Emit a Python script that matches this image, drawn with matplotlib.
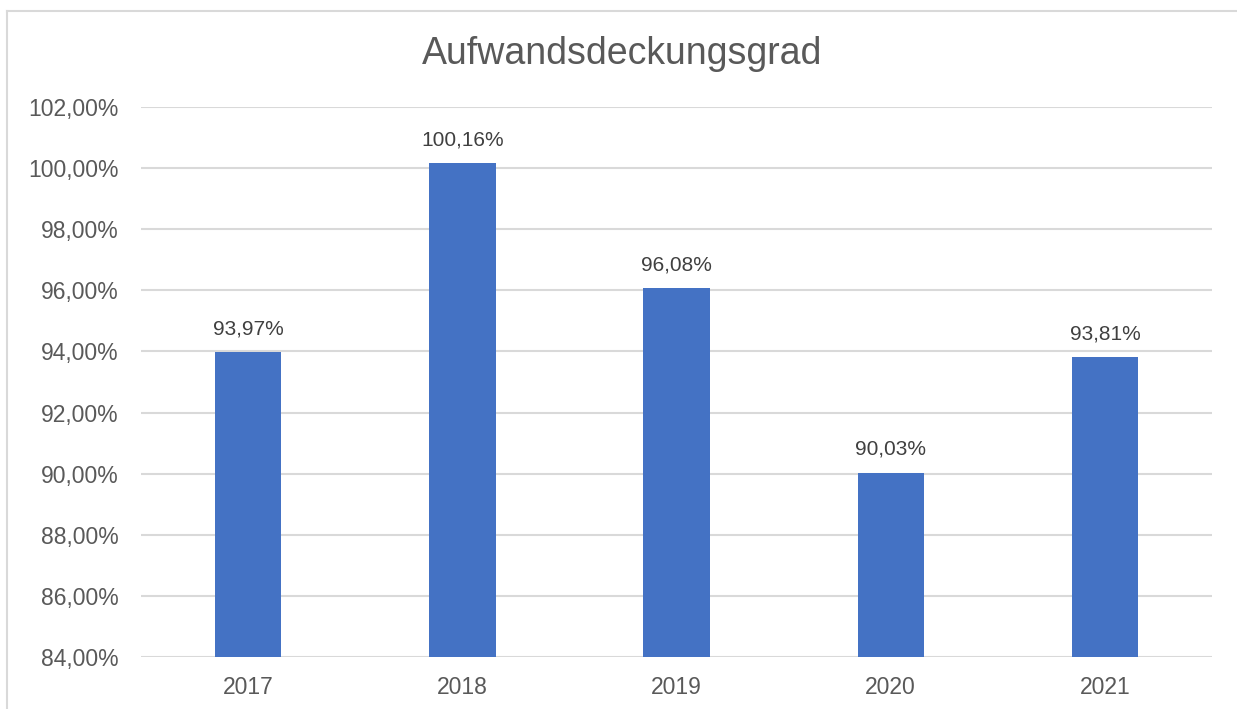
import matplotlib.pyplot as plt
from matplotlib.ticker import FuncFormatter, MultipleLocator
from matplotlib.lines import Line2D

years = ['2017', '2018', '2019', '2020', '2021']
values = [93.97, 100.16, 96.08, 90.03, 93.81]

plt.rcParams['font.family'] = ['Liberation Sans', 'DejaVu Sans']
textColor = '#595959'

fig = plt.figure(figsize=(12.37, 7.09), dpi=100)
ax = fig.add_axes([0.114, 0.0733, 0.8658, 0.7758])

x = range(len(years))
ax.bar(x, values, width=0.31, color='#4472c4', zorder=3)

for i in x:
    ax.annotate(('%.2f%%' % values[i]).replace('.', ','), (i, values[i]),
                xytext=(0, 10), textcoords='offset points',
                ha='center', va='bottom', fontsize=15, color='#404040')

ax.set_xlim(-0.5, 4.5)
ax.set_ylim(84, 102)
ax.yaxis.set_major_locator(MultipleLocator(2))
ax.yaxis.set_major_formatter(FuncFormatter(lambda v, p: ('%.2f%%' % v).replace('.', ',')))
ax.set_xticks(list(x))
ax.set_xticklabels(years)
ax.tick_params(axis='both', length=0, labelsize=16.5, colors=textColor)
ax.tick_params(axis='y', pad=16)
ax.tick_params(axis='x', pad=14)
ax.grid(axis='y', color='#d9d9d9', linewidth=1.5, zorder=0)
for s in ax.spines.values():
    s.set_visible(False)

fig.text(0.503, 0.924, 'Aufwandsdeckungsgrad', ha='center', va='center',
         fontsize=27, color=textColor)

# outer chart frame (top and left only visible)
fig.add_artist(Line2D([0.0057, 1.0], [0.9845, 0.9845], color='#d9d9d9', linewidth=1.5))
fig.add_artist(Line2D([0.0057, 0.0057], [0.0, 0.9845], color='#d9d9d9', linewidth=1.5))

fig.savefig('out.png', dpi=100)
